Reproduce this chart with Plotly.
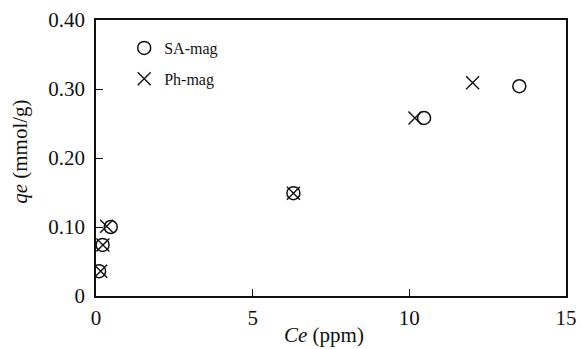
import plotly.graph_objects as go

# Equilibrium concentration Ce (ppm) and adsorbed amount qe (mmol/g)
sa_ce = [0.10, 0.21, 0.47, 6.30, 10.47, 13.51]
sa_qe = [0.036, 0.074, 0.100, 0.149, 0.258, 0.304]
ph_ce = [0.15, 0.22, 0.34, 6.30, 10.18, 12.02]
ph_qe = [0.036, 0.074, 0.101, 0.149, 0.258, 0.309]

y_ticks = [0, 0.1, 0.2, 0.3, 0.4]
y_tick_text = ["0", "0.10", "0.20", "0.30", "0.40"]
x_ticks = [0, 5, 10, 15]

serif = "Liberation Serif, Times New Roman, serif"
ink = "#111"

fig = go.Figure()
fig.add_trace(go.Scatter(
    x=sa_ce, y=sa_qe, mode="markers", name="SA-mag", legendgroup="a",
    marker=dict(symbol="circle-open", size=13, color=ink,
                line=dict(width=1.5, color=ink)),
))
fig.add_trace(go.Scatter(
    x=ph_ce, y=ph_qe, mode="markers", name="Ph-mag", legendgroup="b",
    marker=dict(symbol="x-thin-open", size=13, color=ink,
                line=dict(width=1.4, color=ink)),
))

axis_common = dict(
    showline=True, mirror=True, linecolor=ink, linewidth=1.5,
    ticks="inside", ticklen=7, tickwidth=1.3, tickcolor=ink,
    showgrid=False, zeroline=False, automargin=False,
    tickfont=dict(family=serif, size=21, color=ink),
)

fig.update_layout(
    width=582, height=349,
    margin=dict(l=96, r=16, t=20, b=53),
    paper_bgcolor="white", plot_bgcolor="white",
    font=dict(family=serif, color=ink),
    xaxis=dict(range=[0, 15], tickvals=x_ticks, ticklabelstandoff=2,
               **axis_common),
    yaxis=dict(range=[0, 0.4], tickvals=y_ticks, ticktext=y_tick_text,
               ticklabelstandoff=5, **axis_common),
    legend=dict(x=0.06, y=0.96, xanchor="left", yanchor="top",
                font=dict(family=serif, size=16, color=ink),
                bgcolor="rgba(0,0,0,0)", traceorder="grouped",
                tracegroupgap=7, itemwidth=30),
    showlegend=True,
)

# Axis titles
fig.add_annotation(text="<i>Ce</i> (ppm)", xref="paper", yref="paper",
                   x=0.485, y=-0.141, xanchor="center", yanchor="middle",
                   showarrow=False, font=dict(family=serif, size=21, color=ink))
fig.add_annotation(text="<i>qe</i> (mmol/g)", xref="paper", yref="paper",
                   x=-0.162, y=0.522, xanchor="center", yanchor="middle",
                   showarrow=False, textangle=-90,
                   font=dict(family=serif, size=21, color=ink))

fig.write_html("out.html")
